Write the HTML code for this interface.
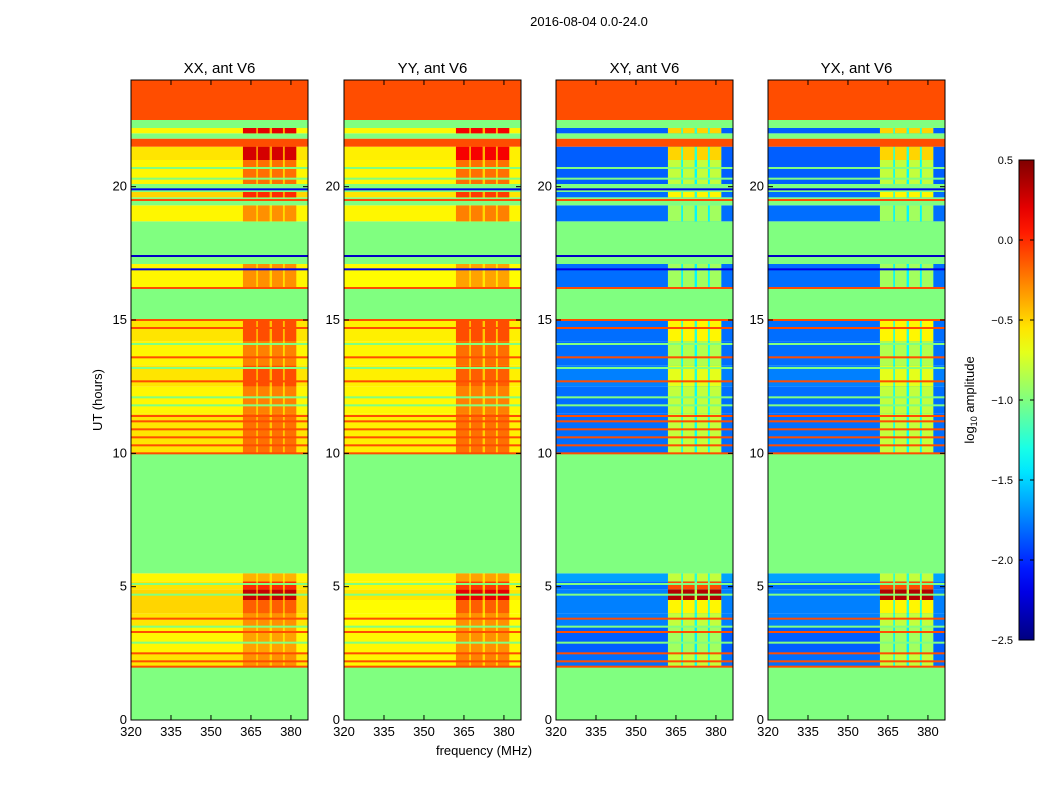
<!DOCTYPE html>
<html><head><meta charset="utf-8"><style>
body{margin:0;background:#fff;}
svg text{font-family:"Liberation Sans",sans-serif;fill:#000;}
</style></head><body>
<svg id="fig" width="1050" height="800" xmlns="http://www.w3.org/2000/svg">
<text x="589" y="26" font-size="13" text-anchor="middle">2016-08-04 0.0-24.0</text>
<text x="484" y="755" font-size="13" text-anchor="middle">frequency (MHz)</text>
<text transform="translate(102,400) rotate(-90)" font-size="13" text-anchor="middle">UT (hours)</text>
<text transform="translate(974,400) rotate(-90)" font-size="13" text-anchor="middle">log<tspan font-size="9" dy="3">10</tspan><tspan dy="-3"> amplitude</tspan></text>
<defs><linearGradient id="jetg" x1="0" y1="1" x2="0" y2="0"></linearGradient></defs>
<g id="plots"></g>
</svg>
<script>
// ---- data ----
const panelTitles = ["XX, ant V6","YY, ant V6","XY, ant V6","YX, ant V6"];
const bandStart = [0,2,2.5,3.5,4.0,4.5,4.9,5.2,5.5,10,11.5,12.5,13.3,14.2,15,16.2,17.1,18.7,19.3,19.6,19.8,20.1,21.0,21.5,21.8,22.0,22.2,22.5];
const bandEnd   = [2,2.5,3.5,4.0,4.5,4.9,5.2,5.5,10,11.5,12.5,13.3,14.2,15,16.2,17.1,18.7,19.3,19.6,19.8,20.1,21.0,21.5,21.8,22.0,22.2,22.5,24];
// null = flagged (uniform fill value)
const flagVal   = [-1,null,null,null,null,null,null,null,-1,null,null,null,null,null,-1,null,-1,null,-1,null,-1,null,null,-0.1,-1,null,-1,-0.1];
const xxBase = [0,-0.55,-0.6,-0.55,-0.5,-0.5,-0.55,-0.6,0,-0.55,-0.6,-0.55,-0.6,-0.55,0,-0.6,0,-0.6,0,-0.5,0,-0.6,-0.55,0,0,-0.6,0,0];
const xxPeak = [0,-0.3,-0.35,-0.3,-0.15,0.3,0.0,-0.4,0,-0.2,-0.25,-0.1,-0.25,-0.1,0,-0.3,0,-0.3,0,0.0,0,-0.2,0.25,0,0,0.2,0,0];
const yyBase = [0,-0.6,-0.6,-0.62,-0.62,-0.55,-0.6,-0.6,0,-0.58,-0.6,-0.58,-0.6,-0.58,0,-0.62,0,-0.6,0,-0.55,0,-0.6,-0.58,0,0,-0.6,0,0];
const yyPeak = [0,-0.25,-0.3,-0.3,-0.15,0.2,-0.05,-0.35,0,-0.2,-0.25,-0.15,-0.2,-0.1,0,-0.35,0,-0.25,0,-0.05,0,-0.2,0.15,0,0,0.15,0,0];
const xyBase = [0,-1.8,-1.85,-1.75,-1.75,-1.75,-1.8,-1.65,0,-1.8,-1.8,-1.75,-1.8,-1.8,0,-1.8,0,-1.8,0,-1.8,0,-1.85,-1.85,0,0,-1.85,0,0];
const xyPeak = [0,-0.8,-0.9,-0.8,-0.6,0.35,-0.1,-0.8,0,-0.8,-0.8,-0.7,-0.85,-0.6,0,-0.9,0,-0.9,0,-0.6,0,-0.8,-0.5,0,0,-0.5,0,0];
const lineHours = [2.0,2.2,2.5,3.3,3.8,10.0,10.3,10.6,10.9,11.2,11.4,12.7,13.6,14.7,15.0,16.2,19.5,21.6,2.9,3.5,4.7,5.1,11.8,12.1,13.2,14.1,20.3,20.7,22.3,22.4,17.4,19.9,16.9];
const lineVals  = [-0.1,-0.1,-0.1,-0.1,-0.1,-0.1,-0.1,-0.1,-0.1,-0.1,-0.1,-0.1,-0.1,-0.1,-0.1,-0.1,-0.1,-0.1,-1,-1,-1,-1,-1,-1,-1,-1,-1,-1,-1,-1,-2.3,-2.2,-2.2];
const stripeLo = [362,367.6,372.9,377.7];
const stripeHi = [367,372,377,382];
const xTicks = [320,335,350,365,380];
const yTicks = [0,5,10,15,20];
const cbTicks = [0.5,0.0,-0.5,-1.0,-1.5,-2.0,-2.5];
// ---- layout ----
const panelX = [131,344,556,768], PW=177, PT=80, PB=720;
const FMIN=320, FMAX=386.4, HMIN=0, HMAX=24, VMIN=-2.5, VMAX=0.5;
function jet(v){
  let t=(v-VMIN)/(VMAX-VMIN); t=Math.max(0,Math.min(1,t));
  const f=x=>Math.max(0,Math.min(1,x));
  const r=f(1.5-Math.abs(4*t-3)), g=f(1.5-Math.abs(4*t-2)), b=f(1.5-Math.abs(4*t-1));
  return `rgb(${Math.round(r*255)},${Math.round(g*255)},${Math.round(b*255)})`;
}
const NS="http://www.w3.org/2000/svg";
const root=document.getElementById('plots');
function mk(tag,attrs,parent){const e=document.createElementNS(NS,tag);for(const k in attrs)e.setAttribute(k,attrs[k]);(parent||root).appendChild(e);return e;}
const baseSets=[xxBase,yyBase,xyBase,xyBase], peakSets=[xxPeak,yyPeak,xyPeak,xyPeak];
panelTitles.forEach((title,p)=>{
  const x0=panelX[p];
  const xs=f=>x0+(f-FMIN)/(FMAX-FMIN)*PW;
  const ys=h=>PB-(h-HMIN)/(HMAX-HMIN)*(PB-PT);
  const g=mk('g',{});
  
  
  for(let i=0;i<bandStart.length;i++){
    const y1=ys(bandEnd[i]), y2=ys(bandStart[i]);
    if(flagVal[i]!==null){
      const r=mk('rect',{x:x0,y:y1,width:PW,height:y2-y1,fill:jet(flagVal[i])},g);
      
      
      continue;
    }
    const b=baseSets[p][i], pk=peakSets[p][i];
    const r=mk('rect',{x:x0,y:y1,width:PW,height:y2-y1,fill:jet(b)},g);
    
    
    const gap=mk('rect',{x:xs(stripeLo[0]),y:y1,width:xs(382)-xs(stripeLo[0]),height:y2-y1,fill:jet(b+(pk-b)*(p>=2?0.45:0.25))},g);
    
    
    for(let s=0;s<stripeLo.length;s++){
      const c=mk('rect',{x:xs(stripeLo[s]),y:y1,width:xs(stripeHi[s])-xs(stripeLo[s]),height:y2-y1,fill:jet(pk)},g);
      
      
    }
  }
  for(let i=0;i<lineHours.length;i++){
    const l=mk('rect',{x:x0,y:ys(lineHours[i])-1,width:PW,height:2,fill:jet(lineVals[i])},g);
    
    
  }
  const fr=mk('rect',{x:x0,y:PT,width:PW,height:PB-PT,fill:'none',stroke:'#000','stroke-width':1},g);
  
  
  const t=mk('text',{x:x0+PW/2,y:PT-7,'font-size':15,'text-anchor':'middle'},g);
  t.textContent=title;
  
  
  xTicks.forEach(v=>{
    const x=xs(v);
    mk('line',{x1:x,x2:x,y1:PB,y2:PB-5,stroke:'#000'},g);
    mk('line',{x1:x,x2:x,y1:PT,y2:PT+5,stroke:'#000'},g);
    const tx=mk('text',{x:x,y:PB+16,'font-size':13,'text-anchor':'middle'},g);
    tx.textContent=v;
    
    
  });
  yTicks.forEach(v=>{
    const y=ys(v);
    mk('line',{x1:x0,x2:x0+5,y1:y,y2:y,stroke:'#000'},g);
    mk('line',{x1:x0+PW,x2:x0+PW-5,y1:y,y2:y,stroke:'#000'},g);
    const ty=mk('text',{x:x0-4,y:y+4,'font-size':13,'text-anchor':'end'},g);
    ty.textContent=v;
    
    
  });
});
// colorbar
const grad=document.getElementById('jetg');
for(let i=0;i<=20;i++){const v=VMIN+(VMAX-VMIN)*i/20;mk('stop',{offset:(i/20),'stop-color':jet(v)},grad);}
const CBX=1019,CBW=15,CBT=160,CBB=640;
const cb=mk('g',{});


mk('rect',{x:CBX,y:CBT,width:CBW,height:CBB-CBT,fill:'url(#jetg)',stroke:'#000'},cb);
const cy=v=>CBB-(v-VMIN)/(VMAX-VMIN)*(CBB-CBT);
cbTicks.forEach(v=>{
  const y=cy(v);
  mk('line',{x1:CBX,x2:CBX+4,y1:y,y2:y,stroke:'#000'},cb);
  mk('line',{x1:CBX+CBW-4,x2:CBX+CBW,y1:y,y2:y,stroke:'#000'},cb);
  const t=mk('text',{x:CBX-6,y:y+4,'font-size':11,'text-anchor':'end'},cb);
  t.textContent=(v<0?'\u2212':'')+Math.abs(v).toFixed(1);
  
  
});
</script>
</body></html>
